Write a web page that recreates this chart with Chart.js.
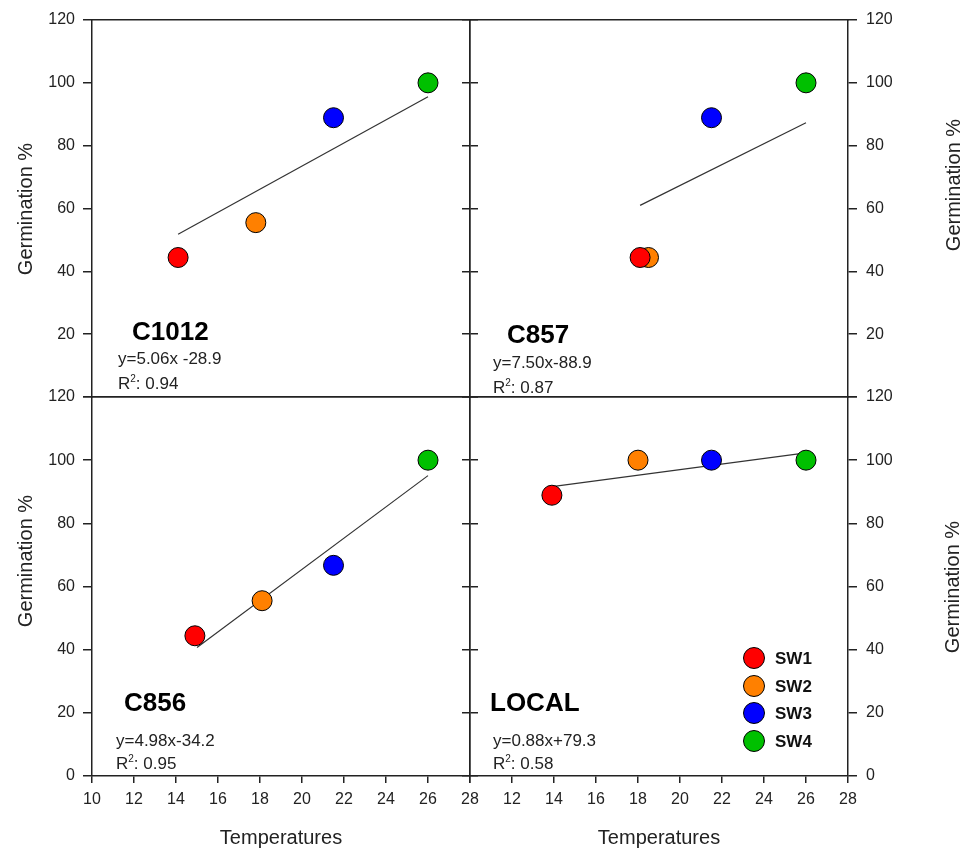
<!DOCTYPE html>
<html>
<head>
<meta charset="utf-8">
<script src="https://cdn.jsdelivr.net/npm/chart.js@4.4.1/dist/chart.umd.min.js"></script>
<style>
body { margin: 0; background: #fff; font-family: "Liberation Sans", Arial, sans-serif; color: #222; }
#wrap { position: relative; width: 968px; height: 852px; overflow: hidden; }
canvas { position: absolute; left: 0; top: 0; }
.lbl { position: absolute; white-space: nowrap; line-height: 1; transform: translateY(-50%); }
.name { font-weight: bold; font-size: 26px; color: #000; }
.eq { font-size: 17px; color: #222; }
.eq sup { font-size: 10px; vertical-align: 7px; line-height: 0; }
.ytitle { position: absolute; font-size: 20px; white-space: nowrap; line-height: 1; transform: translate(-50%, -50%) rotate(-90deg); }
.legItem { position: absolute; height: 22px; transform: translateY(-50%); white-space: nowrap; }
.legDot { position: absolute; left: 0; top: 0; width: 20px; height: 20px; border: 1px solid #000; border-radius: 50%; }
.legText { position: absolute; left: 32px; top: 11px; transform: translateY(-50%); font-weight: bold; font-size: 17px; line-height: 1; color: #111; }
</style>
</head>
<body>
<div id="wrap">
  <canvas id="pTL" width="968" height="852"></canvas>
  <canvas id="pTR" width="968" height="852"></canvas>
  <canvas id="pBL" width="968" height="852"></canvas>
  <canvas id="pBR" width="968" height="852"></canvas>
</div>
<script>
// values
const seriesNames = ['SW1', 'SW2', 'SW3', 'SW4'];
const tempTicks = [10, 12, 14, 16, 18, 20, 22, 24, 26, 28];
const germTicks = [0, 20, 40, 60, 80, 100, 120];

const c1012Temp = [14.1, 17.8, 21.5, 26.0];
const c1012Germ = [44.4, 55.5, 88.9, 100];
const c1012FitTemp = [14.1, 26.0];
const c1012FitGerm = [51.8, 95.6];

const c857Temp = [18.1, 18.5, 21.5, 26.0];
const c857Germ = [44.4, 44.4, 88.9, 100];
const c857FitTemp = [18.1, 26.0];
const c857FitGerm = [61.0, 87.3];

const c856Temp = [14.9, 18.1, 21.5, 26.0];
const c856Germ = [44.4, 55.5, 66.7, 100];
const c856FitTemp = [15.0, 26.0];
const c856FitGerm = [40.7, 95.1];

const localTemp = [13.9, 18.0, 21.5, 26.0];
const localGerm = [88.9, 100, 100, 100];
const localFitTemp = [14.0, 26.0];
const localFitGerm = [91.7, 102.3];

const panelNames = ['C1012', 'C857', 'C856', 'LOCAL'];
const equations = ['y=5.06x -28.9', 'y=7.50x-88.9', 'y=4.98x-34.2', 'y=0.88x+79.3'];
const rSquared = ['0.94', '0.87', '0.95', '0.58'];

const seriesColors = ['#FF0000', '#FF8000', '#0000FF', '#00C000'];
const axisColor = '#222';
const tickFont = { family: '"Liberation Sans", Arial, sans-serif', size: 16 };

function setTicks(values)
{
    return function (scale) {
        scale.ticks = values.map(v => ({ value: v }));
    };
}

function makePanel(canvasId, temp, germ, fitTemp, fitGerm, leftCol, bottomRow)
{
    const datasets = [];
    for (let i = 0; i < seriesNames.length; i++)
    {
        datasets.push({
            label: seriesNames[i],
            data: [{ x: temp[i], y: germ[i] }],
            backgroundColor: seriesColors[i],
            borderColor: '#000',
            borderWidth: 1,
            pointRadius: 10,
            pointHoverRadius: 10,
            clip: false
        });
    }
    datasets.push({
        label: 'fit',
        data: fitTemp.map((t, i) => ({ x: t, y: fitGerm[i] })),
        showLine: true,
        borderColor: '#333',
        borderWidth: 1.2,
        pointRadius: 0,
        clip: false
    });

    const border = { display: true, color: axisColor, width: 1.5 };

    new Chart(document.getElementById(canvasId).getContext('2d'), {
        type: 'scatter',
        data: { datasets: datasets },
        options: {
            responsive: false,
            animation: false,
            devicePixelRatio: 1,
            events: [],
            layout: {
                padding: {
                    left: leftCol ? 0 : 462,
                    right: leftCol ? 490 : 0,
                    top: bottomRow ? 397 : 20,
                    bottom: bottomRow ? 0 : 455
                }
            },
            plugins: { legend: { display: false }, tooltip: { enabled: false } },
            scales: {
                x: {
                    type: 'linear',
                    position: 'bottom',
                    min: tempTicks[0],
                    max: tempTicks[tempTicks.length - 1],
                    afterBuildTicks: setTicks(tempTicks),
                    ticks: {
                        display: bottomRow,
                        autoSkip: false,
                        maxRotation: 0,
                        padding: 7,
                        color: axisColor,
                        font: tickFont,
                        callback: v => (!leftCol && v === 10) ? '' : String(v)
                    },
                    grid: { display: bottomRow, drawOnChartArea: false, tickLength: 7, color: axisColor, lineWidth: 1.5 },
                    border: border,
                    title: {
                        display: bottomRow,
                        text: 'Temperatures',
                        color: axisColor,
                        font: { family: tickFont.family, size: 20 },
                        padding: { top: 0, bottom: 2 }
                    },
                    afterFit: s => { s.height = bottomRow ? 76 : 0; }
                },
                xTop: {
                    type: 'linear',
                    position: 'top',
                    min: tempTicks[0],
                    max: tempTicks[tempTicks.length - 1],
                    ticks: { display: false },
                    grid: { display: false },
                    border: border,
                    afterFit: s => { s.height = 0; }
                },
                y: {
                    type: 'linear',
                    position: 'left',
                    min: germTicks[0],
                    max: germTicks[germTicks.length - 1],
                    afterBuildTicks: setTicks(germTicks),
                    ticks: {
                        display: leftCol,
                        padding: 8,
                        color: axisColor,
                        font: tickFont,
                        callback: v => (!bottomRow && v === 0) ? '' : String(v)
                    },
                    grid: { drawOnChartArea: false, tickLength: leftCol ? 9 : 8, color: axisColor, lineWidth: 1.5 },
                    border: border,
                    afterFit: s => { s.width = leftCol ? 92 : 8; }
                },
                yRight: {
                    type: 'linear',
                    position: 'right',
                    min: germTicks[0],
                    max: germTicks[germTicks.length - 1],
                    afterBuildTicks: setTicks(germTicks),
                    ticks: {
                        display: !leftCol,
                        padding: 9,
                        color: axisColor,
                        font: tickFont,
                        callback: v => (!bottomRow && v === 0) ? '' : String(v)
                    },
                    grid: { drawOnChartArea: false, tickLength: leftCol ? 8 : 9, color: axisColor, lineWidth: 1.5 },
                    border: border,
                    afterFit: s => { s.width = leftCol ? 8 : 120; }
                }
            }
        }
    });
}

function addText(cls, html, x, y)
{
    const d = document.createElement('div');
    d.className = cls;
    d.innerHTML = html;
    d.style.left = x + 'px';
    d.style.top = y + 'px';
    document.getElementById('wrap').appendChild(d);
}

function addLabels()
{
    // panel name, equation and R2 spots: [nameX, nameY, eqX, eqY, r2Y]
    const spots = [
        [132, 331, 118, 358, 383],
        [507, 334, 493, 362, 387],
        [124, 702, 116, 740, 763],
        [490, 702, 493, 740, 763]
    ];
    for (let i = 0; i < spots.length; i++)
    {
        const s = spots[i];
        addText('lbl name', panelNames[i], s[0], s[1]);
        addText('lbl eq', equations[i], s[2], s[3]);
        addText('lbl eq', 'R<sup>2</sup>: ' + rSquared[i], s[2], s[4]);
    }

    addText('ytitle', 'Germination %', 25, 209);
    addText('ytitle', 'Germination %', 25, 561);
    addText('ytitle', 'Germination %', 953, 185);
    addText('ytitle', 'Germination %', 952, 587);

    // legend inside the LOCAL panel
    const legY = [658, 686, 713, 741];
    for (let i = 0; i < seriesNames.length; i++)
    {
        const item = document.createElement('div');
        item.className = 'legItem';
        item.style.left = '743px';
        item.style.top = legY[i] + 'px';
        const dot = document.createElement('div');
        dot.className = 'legDot';
        dot.style.background = seriesColors[i];
        const txt = document.createElement('div');
        txt.className = 'legText';
        txt.textContent = seriesNames[i];
        item.appendChild(dot);
        item.appendChild(txt);
        document.getElementById('wrap').appendChild(item);
    }
}

makePanel('pTL', c1012Temp, c1012Germ, c1012FitTemp, c1012FitGerm, true, false);
makePanel('pTR', c857Temp, c857Germ, c857FitTemp, c857FitGerm, false, false);
makePanel('pBL', c856Temp, c856Germ, c856FitTemp, c856FitGerm, true, true);
makePanel('pBR', localTemp, localGerm, localFitTemp, localFitGerm, false, true);
addLabels();
</script>
</body>
</html>
